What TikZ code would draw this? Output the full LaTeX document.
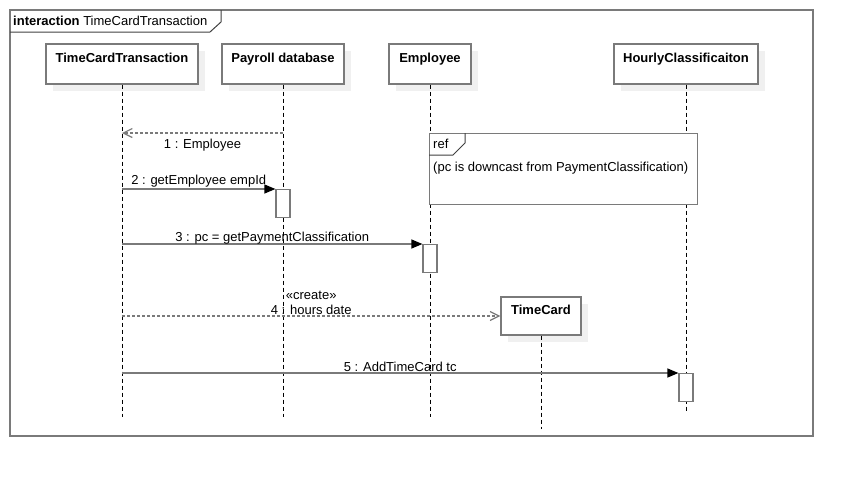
\documentclass[tikz,border=0pt]{standalone}
\usepackage{fontspec}
\setmainfont{Liberation Sans}
\usetikzlibrary{arrows.meta,shadows}
\definecolor{borde}{HTML}{7A7A7A}
\definecolor{sombra}{HTML}{F0F0F0}

\begin{document}
\begin{tikzpicture}[x=1pt, y=-1pt, font=\fontsize{13}{15}\selectfont,
  cabeza/.style={draw=borde, fill=white, line width=1.2pt, inner sep=4pt, text height=14.5pt, text depth=17.5pt, minimum height=40pt, font=\fontsize{13}{15}\selectfont\bfseries, drop shadow={shadow xshift=7pt, shadow yshift=-7pt, fill=sombra, opacity=1}},
  vida/.style={dash pattern=on 4pt off 3pt, line width=0.8pt},
  activo/.style={draw=borde, fill=white, line width=1.2pt, minimum width=14pt, minimum height=28pt, inner sep=0pt, anchor=north},
  llamada/.style={draw=borde, line width=1.2pt, -{Triangle[length=11pt,width=9pt,color=black]}},
  retorno/.style={draw=borde, line width=1.2pt, dash pattern=on 3pt off 2pt, -{Straight Barb[length=9pt,width=9pt]}},
  marco/.style={draw=borde, line width=1.2pt},
  pestana/.style={draw=black!75, line width=1pt}]
\useasboundingbox (0,0) rectangle (853,477);
% Marco
\draw[marco] (10,10) rectangle (813,436);
\node [anchor=west, inner sep=3pt] (titulo) at (10,21) {\textbf{interaction} TimeCardTransaction};
\draw[pestana] (10,32) -- (210,32) -- (221,22) -- (221,10);
% Nodos
\node [cabeza, minimum width=152pt] (tct) at (122,64) {TimeCardTransaction};
\node [cabeza, minimum width=122pt] (pdb) at (283,64) {Payroll database};
\node [cabeza, minimum width=82pt] (emp) at (430,64) {Employee};
\node [cabeza, minimum width=144pt] (hc) at (686,64) {HourlyClassificaiton};
\node [cabeza, minimum width=80pt, minimum height=38pt, text height=13.5pt, text depth=16.5pt] (tc) at (541,316) {TimeCard};
% Lineas de vida
\foreach \n/\fin in {tct/417, pdb/417, emp/417, hc/411, tc/429}{
  \coordinate (\n fin) at (\n.south |- 0,\fin);
  \draw[vida] (\n) -- (\n fin);
}
% ---
% ref
% ---
\node [marco, fill=white, minimum width=268pt, minimum height=71pt, anchor=north west, inner sep=0pt] (ref) at (429,133) {};
\node [anchor=west, inner sep=0pt] (reftxt) at (433,144) {ref};
\draw[pestana] ([yshift=-22pt]ref.north west) -- ++(24,0) -- ++(12,-12) -- ++(0,-10);
\node [anchor=west, inner sep=0pt] (nota) at (433,168.5) {(pc is downcast from PaymentClassification)};
% Activaciones
\node [activo] (a2) at (pdb.south |- 0,189) {};
\node [activo] (a3) at (emp.south |- 0,244) {};
\node [activo] (a5) at (hc.south |- 0,373) {};
% Mensajes
\path (pdb.south |- 0,133) edge [retorno] node [below, inner sep=5.5pt] {1 : Employee} (tct.south |- 0,133);

\path (tct.south |- a2.north) edge [llamada] node [above, inner sep=1pt] {2 : getEmployee empId} (a2.north west);

\path (tct.south |- a3.north) edge [llamada] node [above, inner sep=0pt, yshift=-1pt] {3 : pc = getPaymentClassification} (a3.north west);

\path (tct.south |- tc.west) edge [retorno] node [above, align=center, inner sep=1pt] {«create»\\4 : hours date} (tc.west);

\path (tct.south |- a5.north) edge [llamada] node [above, inner sep=1pt] {5 : AddTimeCard tc} (a5.north west);
\end{tikzpicture}
\end{document}
